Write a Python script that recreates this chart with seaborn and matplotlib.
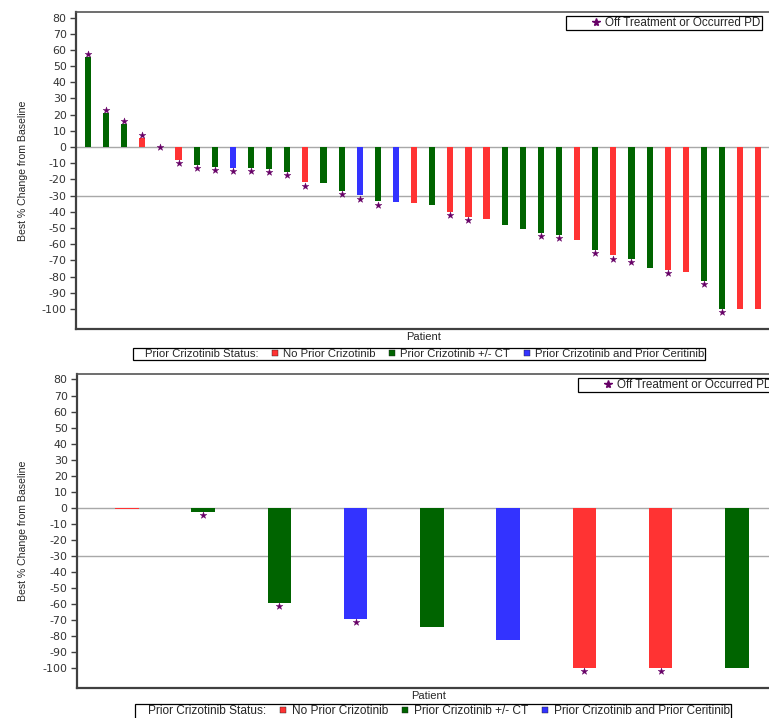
import numpy as np
import pandas as pd
import matplotlib
matplotlib.use("Agg")
import matplotlib.pyplot as plt
from matplotlib.lines import Line2D
import seaborn as sns

# ---- data: cohort A (upper panel) ----
cohort_a_values = [55.4, 20.9, 14.2, 5.7, 0.0, -7.8, -11.1, -12.1, -12.7, -12.7,
                   -13.5, -15.2, -21.8, -22.2, -27.1, -29.8, -33.5, -33.9, -34.5, -35.9,
                   -40.0, -43.1, -44.3, -48.4, -50.3, -52.9, -54.0, -57.2, -63.6, -66.9,
                   -69.2, -74.5, -75.9, -77.4, -82.5, -100.0, -100.0, -100.0]
cohort_a_status = ["C", "C", "C", "N", "C", "N", "C", "C", "B", "C",
                   "C", "C", "N", "C", "C", "B", "C", "B", "N", "C",
                   "N", "N", "N", "C", "C", "C", "C", "N", "C", "N",
                   "C", "C", "N", "N", "C", "C", "N", "N"]
cohort_a_offtx = [1, 1, 1, 1, 1, 1, 1, 1, 1, 1,
                  1, 1, 1, 0, 1, 1, 1, 0, 0, 0,
                  1, 1, 0, 0, 0, 1, 1, 0, 1, 1,
                  1, 0, 1, 0, 1, 1, 0, 0]

# ---- data: cohort B (lower panel) ----
cohort_b_values = [-1.0, -2.3, -59.2, -69.2, -74.2, -82.5, -100.0, -100.0, -100.0]
cohort_b_status = ["N", "C", "C", "B", "C", "B", "N", "N", "C"]
cohort_b_offtx = [0, 1, 1, 1, 0, 0, 1, 1, 0]

status_labels = {"N": "No Prior Crizotinib",
                 "C": "Prior Crizotinib +/- CT",
                 "B": "Prior Crizotinib and Prior Ceritinib"}
status_order = ["N", "C", "B"]
palette = {"N": "#FF3333", "C": "#006400", "B": "#3333FF"}
star_color = "#660066"
y_ticks = list(range(-100, 81, 10))
response_line = -30

sns.set_style("white")
plt.rcParams["font.family"] = ["DejaVu Sans"]

fig = plt.figure(figsize=(7.69, 7.18), dpi=100)
W, H = 769.0, 718.0


def px_axes(left, top, right, bottom):
    return fig.add_axes([left / W, 1 - bottom / H, (right - left) / W, (bottom - top) / H])


def draw_panel(ax, values, status, offtx, bar_width, xlim, ylabel_x):
    n = len(values)
    df = pd.DataFrame({"patient": [f"P{i+1:02d}" for i in range(n)],
                       "value": values,
                       "status": status})
    ax.axhline(0, color="#A8A8A8", lw=1.0, zorder=0.5)
    ax.axhline(response_line, color="#A8A8A8", lw=1.0, zorder=0.5)
    sns.barplot(data=df, x="patient", y="value", hue="status", hue_order=status_order,
                palette=palette, dodge=False, width=bar_width, saturation=1,
                linewidth=0, legend=False, ax=ax, zorder=2)
    vals = np.asarray(values)
    mask = np.asarray(offtx, dtype=bool)
    pos = np.arange(n)[mask]
    star_y = vals[mask] + np.sign(vals[mask]) * 2.0
    sns.scatterplot(x=pos, y=star_y, marker="*", s=26, color=star_color,
                    edgecolor=star_color, linewidth=0.3, ax=ax, zorder=3, legend=False)
    ax.set_xlim(*xlim)
    ax.set_ylim(-112.3, 83.4)
    ax.set_yticks(y_ticks)
    ax.set_yticklabels([str(t) for t in y_ticks])
    ax.set_xticks([])
    ax.tick_params(axis="y", direction="out", length=4.2, width=1.0, color="#404040",
                   labelsize=7.9, labelcolor="#333333", pad=2.5, left=True)
    for side in ["left", "bottom"]:
        ax.spines[side].set_color("#404040")
        ax.spines[side].set_linewidth(1.6)
    ax.spines["top"].set_color("#555555")
    ax.spines["top"].set_linewidth(1.2)
    ax.spines["right"].set_color("#555555")
    ax.set_xlabel("Patient", family="Liberation Sans", fontsize=8, labelpad=2.0)
    ax.set_ylabel("Best % Change from Baseline", family="Liberation Sans", fontsize=7.6)
    ax.yaxis.set_label_coords(ylabel_x, 0.5)


ax_top = px_axes(76, 12, 771, 329)
draw_panel(ax_top, cohort_a_values, cohort_a_status, cohort_a_offtx, 0.34,
           (-0.66, 37.7), (28 - 76) / 695)

ax_bot = px_axes(77, 374, 781, 688)
draw_panel(ax_bot, cohort_b_values, cohort_b_status, cohort_b_offtx, 0.31,
           (-0.656, 8.58), (28 - 77) / 704)


def star_legend(left_px, top_px):
    h = Line2D([], [], linestyle="none", marker="*", markersize=5.8,
               color=star_color, markeredgecolor=star_color)
    leg = fig.legend([h], ["Off Treatment or Occurred PD"], loc="upper left",
                     bbox_to_anchor=(left_px / W, 1 - top_px / H), borderaxespad=0,
                     frameon=True, fancybox=False, edgecolor="black", framealpha=1,
                     borderpad=0.1, handlelength=5.0, handletextpad=-1.72,
                     prop={"family": "Liberation Sans", "size": 8.4})
    leg.get_frame().set_linewidth(0.9)
    return leg


def status_legend(left_px, top_px, size):
    handles = [Line2D([], [], linestyle="none")]
    labels = ["Prior Crizotinib Status:"]
    for key in status_order:
        handles.append(Line2D([], [], linestyle="none", marker="s", markersize=4.8,
                              color=palette[key], markeredgecolor="#202020",
                              markeredgewidth=0.3))
        labels.append(status_labels[key])
    leg = fig.legend(handles, labels, ncol=4, loc="upper left",
                     bbox_to_anchor=(left_px / W, 1 - top_px / H), borderaxespad=0,
                     frameon=True, fancybox=False, edgecolor="black", framealpha=1,
                     borderpad=0.12, handlelength=0.5, handletextpad=0.45,
                     columnspacing=1.2, prop={"family": "Liberation Sans", "size": size})
    leg.get_frame().set_linewidth(0.9)
    return leg


star_legend(566, 15.5)
star_legend(578, 377.7)
status_legend(133, 347.5, 8.2)
status_legend(135, 704, 8.6)

fig.savefig("out.png", dpi=100)
